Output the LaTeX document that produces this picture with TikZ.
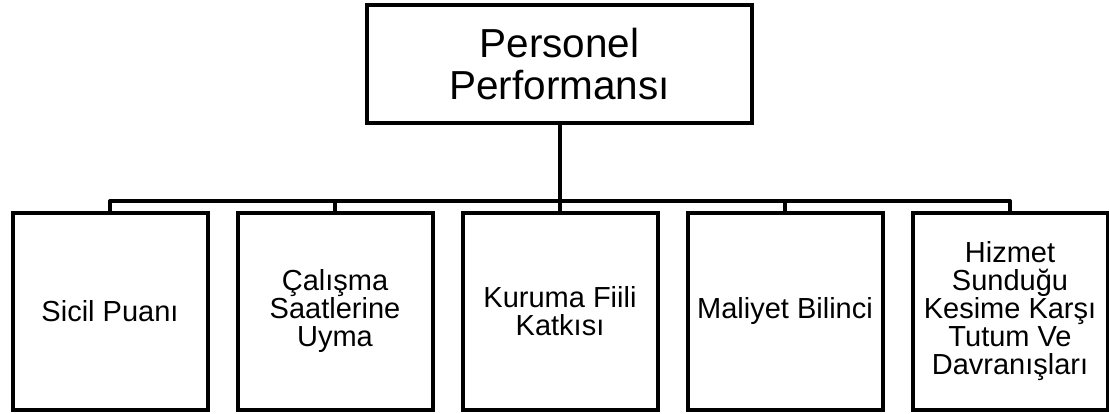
\documentclass[tikz,border=0pt]{standalone}
\usepackage{fontspec}
\setmainfont{Liberation Sans}
\usepackage{tikz}
\usetikzlibrary{positioning,calc}
\definecolor{ink}{HTML}{000000}
\tikzset{
  headbox/.style={rectangle, draw=ink, line width=4pt, align=center, minimum width=385pt, minimum height=118pt, inner sep=0pt, font=\fontsize{40.5}{42}\selectfont},
  leafbox/.style={rectangle, draw=ink, line width=4pt, align=center, minimum width=195pt, minimum height=197pt, inner sep=0pt, font=\fontsize{29}{28}\selectfont},
  link/.style={draw=ink, line width=4pt, line join=round}
}
\begin{document}
\begin{tikzpicture}[x=1pt, y=-1pt]
  \useasboundingbox (0,0) rectangle (1109,414);
  \node[headbox] (perf) at (559.5,64) {Personel\\Performansı};
  \node[leafbox] (sicil) at (110,311.5) {Sicil Puanı};
  \node[leafbox] (calisma) at (335,311.5) {Çalışma\\Saatlerine\\Uyma};
  \node[leafbox] (katki) at (560,311.5) {Kuruma Fiili\\Katkısı};
  \node[leafbox] (maliyet) at (785,311.5) {Maliyet Bilinci};
  \node[leafbox] (tutum) at (1010,311.5) {Hizmet\\Sunduğu\\Kesime Karşı\\Tutum Ve\\Davranışları};

  \foreach \k in {sicil,calisma,katki,maliyet,tutum}
    \draw[link] (perf.south) -- ++(0,76) -| (\k.north);
\end{tikzpicture}
\end{document}
